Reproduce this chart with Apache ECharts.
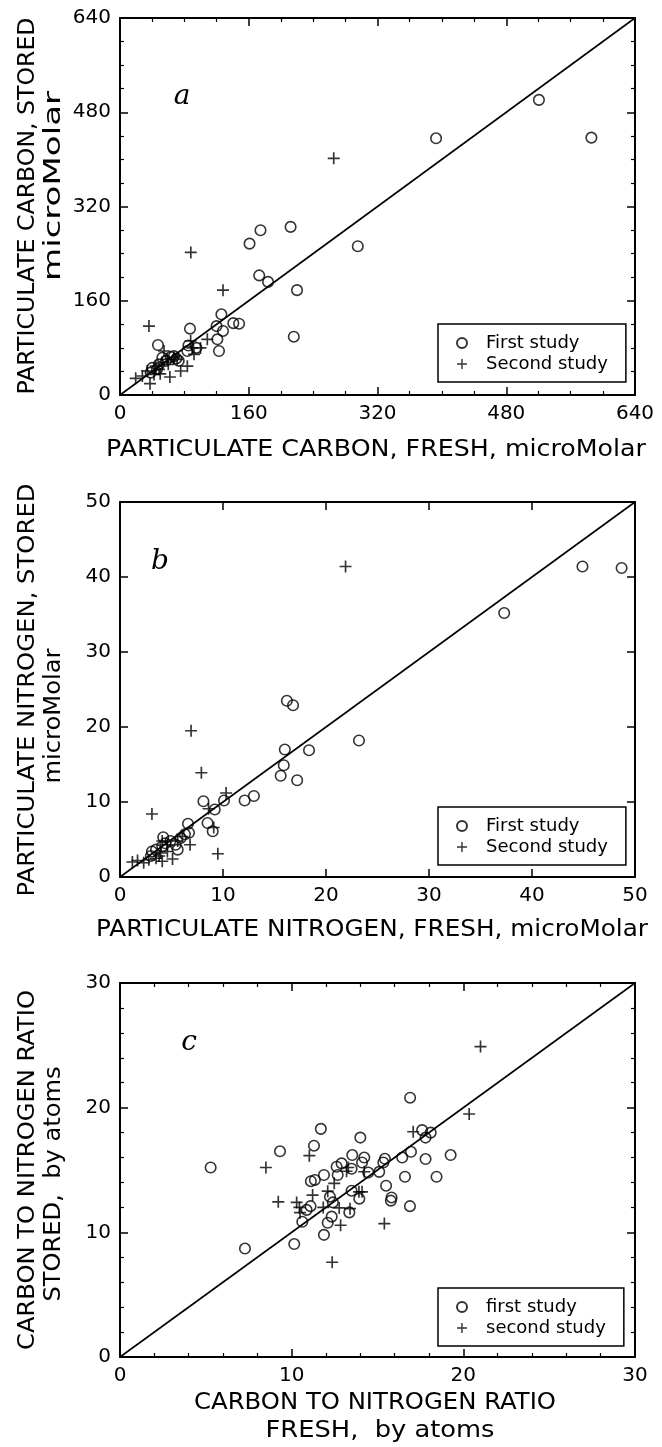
<!DOCTYPE html>
<html>
<head>
<meta charset="utf-8">
<script src="https://cdn.jsdelivr.net/npm/echarts@6/dist/echarts.min.js"></script>
<style>
  html, body { margin: 0; padding: 0; background: #fff; }
  #chart { width: 662px; height: 1447px; }
</style>
</head>
<body>
<div id="chart"></div>
<script>
// --- data ---
// a: particulate carbon, microMolar (fresh, stored)
const carbonFirst = [
  [520.6, 501], [392.8, 435.8], [585.8, 436.9], [295.5, 252.5], [212, 285.4], [174.6, 279.7],
  [161, 257], [173, 203], [184, 192], [220, 178], [216, 99], [126, 137], [140.8, 122], [148, 121],
  [120, 117], [128, 108.7], [121, 94.5], [123, 74.7], [87, 112.6], [47.2, 84.9], [85, 84],
  [83.7, 74.7], [95, 80], [63, 64.5], [67, 66], [73, 58], [57, 58], [48.5, 52], [40, 46],
  [38, 38], [46, 43.6], [52.6, 63.4], [70, 62]
];
const carbonSecond = [
  [265.6, 401.7], [88, 242], [128, 178], [36, 117], [108.5, 94.5], [100, 80], [92, 69],
  [83.7, 49], [75.4, 40.7], [62, 30.6], [37.3, 19.2], [19.5, 28.3], [27.8, 32.3], [42.3, 35],
  [48.5, 43.6], [52.6, 55], [54.7, 74.7], [58.8, 60.6], [67, 63.4], [71, 60.6], [87.8, 91.7],
  [90, 80], [34, 40.7], [44.3, 49], [60, 52], [50, 36]
];
const carbonLine = [[0, 0], [640, 640]];

// b: particulate nitrogen, microMolar
const nitrogenFirst = [
  [44.9, 41.4], [48.7, 41.2], [37.3, 35.2], [16.2, 23.5], [16.8, 22.9], [23.2, 18.2], [16.0, 17.0],
  [18.35, 16.9], [15.9, 14.9], [15.6, 13.5], [17.2, 12.9], [12.1, 10.2], [13.0, 10.8], [10.1, 10.2],
  [8.1, 10.1], [9.2, 9.0], [6.6, 7.1], [8.5, 7.2], [9.0, 6.1], [6.7, 5.9], [6.3, 5.7], [4.2, 5.3],
  [5.6, 3.65], [5.4, 4.3], [4.4, 4.5], [4.1, 4.1], [3.5, 3.65], [3.1, 3.4], [3.0, 2.8], [4.9, 4.8],
  [5.9, 5.2]
];
const nitrogenSecond = [
  [21.9, 41.4], [6.9, 19.5], [7.9, 13.9], [10.3, 11.2], [3.1, 8.4], [8.6, 9.1], [9.1, 6.6],
  [9.5, 3.1], [6.8, 4.3], [5.1, 2.4], [4.1, 2.1], [1.2, 2.0], [1.7, 2.2], [2.3, 1.9], [2.8, 2.3],
  [3.8, 2.8], [4.6, 3.4], [6.05, 5.4], [5.6, 4.8], [3.95, 3.2], [3.5, 2.5], [4.6, 4.3], [4.1, 4.8]
];
const nitrogenLine = [[0, 0], [50, 50]];

// c: carbon to nitrogen ratio, by atoms
const ratioFirst = [
  [5.28, 15.2], [7.28, 8.7], [9.32, 16.5], [11.3, 16.95], [11.7, 18.3], [11.12, 14.1], [11.35, 14.2],
  [11.88, 14.6], [11.1, 12.1], [10.87, 11.8], [10.62, 10.85], [10.15, 9.06], [11.88, 9.8],
  [12.1, 10.77], [12.33, 11.26], [12.23, 12.86], [12.62, 15.26], [12.91, 15.53], [12.68, 14.6],
  [13.49, 15.1], [13.53, 16.2], [14.23, 16.0], [14.1, 15.6], [14.0, 17.6], [14.46, 14.8],
  [13.49, 13.34], [13.36, 11.6], [13.94, 12.7], [15.1, 14.85], [15.34, 15.6], [15.43, 15.9],
  [15.5, 13.74], [15.82, 12.8], [15.78, 12.54], [16.44, 16.0], [16.6, 14.46], [16.89, 12.1],
  [16.95, 16.46], [16.9, 20.8], [17.6, 18.2], [17.8, 17.6], [18.1, 18.0], [17.8, 15.88],
  [18.44, 14.46], [19.26, 16.2], [12.4, 12.4]
];
const ratioSecond = [
  [21.0, 24.9], [20.34, 19.49], [17.08, 18.07], [8.5, 15.2], [9.22, 12.45], [10.29, 12.4],
  [10.45, 12.0], [10.49, 11.58], [11.03, 16.15], [11.22, 12.99], [11.84, 12.0], [12.1, 13.3],
  [12.48, 13.93], [12.77, 11.96], [12.85, 10.57], [12.36, 7.6], [13.4, 11.9], [13.2, 14.9],
  [13.3, 15.2], [13.92, 13.25], [14.1, 13.25], [14.23, 14.86], [15.4, 10.7]
];
const ratioLine = [[0, 0], [30, 30]];

// axis ranges / tick steps
const carbonAxis = [0, 640, 160];
const nitrogenAxis = [0, 50, 10];
const ratioAxis = [0, 30, 10];

const FONT = "DejaVu Sans";
const CROSS = "path://M4.3,0h1.4v4.3h4.3v1.4h-4.3v4.3h-1.4v-4.3h-4.3v-1.4h4.3z";

// titles: [text, fontSize, length along reading direction, centre x, centre y]
const panels = [
  {
    top: 18, height: 377, axis: carbonAxis, minor: 4,
    first: carbonFirst, second: carbonSecond, line: carbonLine,
    names: ["First study", "Second study"], legendTop: 324,
    xTitle: [["PARTICULATE CARBON, FRESH, microMolar", 23, 540, 376, 450]],
    yTitle: [["PARTICULATE CARBON, STORED", 23, 377, 28, 206], ["microMolar", 23, 190, 54, 186]],
    letter: "a", letterPos: [182, 97]
  },
  {
    top: 502, height: 375, axis: nitrogenAxis, minor: 0,
    first: nitrogenFirst, second: nitrogenSecond, line: nitrogenLine,
    names: ["First study", "Second study"], legendTop: 807,
    xTitle: [["PARTICULATE NITROGEN, FRESH, microMolar", 23, 552, 372, 930]],
    yTitle: [["PARTICULATE NITROGEN, STORED", 23, 413, 28, 690], ["microMolar", 23, 135, 54, 716]],
    letter: "b", letterPos: [160, 562]
  },
  {
    top: 983, height: 374, axis: ratioAxis, minor: 5,
    first: ratioFirst, second: ratioSecond, line: ratioLine,
    names: ["first study", "second study"], legendTop: 1288,
    xTitle: [["CARBON TO NITROGEN RATIO", 23, 362, 375, 1403], ["FRESH,  by atoms", 23, 229, 380, 1431]],
    yTitle: [["CARBON TO NITROGEN RATIO", 23, 360, 28, 1170], ["STORED,  by atoms", 23, 235, 54, 1184]],
    letter: "c", letterPos: [189, 1043]
  }
];

const measureCtx = document.createElement("canvas").getContext("2d");
function stretch(text, size, length) {
  measureCtx.font = size + "px " + FONT;
  return length / measureCtx.measureText(text).width;
}

function makeAxis(p, i, pos, labels) {
  return {
    type: "value", gridIndex: i, position: pos,
    min: p.axis[0], max: p.axis[1], interval: p.axis[2],
    axisLine: { show: true, onZero: false, lineStyle: { color: "#000", width: 2 } },
    axisTick: { show: true, inside: true, length: 8, lineStyle: { color: "#000", width: 1.5 } },
    minorTick: { show: p.minor > 0, splitNumber: p.minor || 5, length: 4, lineStyle: { color: "#000", width: 1.2 } },
    splitLine: { show: false },
    axisLabel: { show: labels, color: "#000", fontFamily: FONT, fontSize: 20, margin: 9 }
  };
}

const grid = [], xAxis = [], yAxis = [], series = [], legend = [], graphic = [];

panels.forEach((p, i) => {
  grid.push({ left: 120, top: p.top, width: 515, height: p.height });
  xAxis.push(makeAxis(p, i, "bottom", true), makeAxis(p, i, "top", false));
  yAxis.push(makeAxis(p, i, "left", true), makeAxis(p, i, "right", false));

  series.push({
    type: "line", xAxisIndex: 2 * i, yAxisIndex: 2 * i, data: p.line,
    symbol: "none", silent: true, lineStyle: { color: "#000", width: 1.6 }, z: 2
  });
  series.push({
    type: "scatter", name: p.names[0], xAxisIndex: 2 * i, yAxisIndex: 2 * i, data: p.first,
    symbol: "circle", symbolSize: 10.5, z: 3,
    itemStyle: { color: "rgba(0,0,0,0)", borderColor: "#000", borderWidth: 1.6 }
  });
  series.push({
    type: "scatter", name: p.names[1], xAxisIndex: 2 * i, yAxisIndex: 2 * i, data: p.second,
    symbol: CROSS, symbolSize: 12, z: 3,
    itemStyle: { color: "#000", borderWidth: 0 }
  });

  legend.push({
    data: p.names, orient: "vertical", left: 438, top: p.legendTop,
    padding: [10, 18, 9, 18], itemGap: 3, itemWidth: 10, itemHeight: 10,
    borderColor: "#000", borderWidth: 1.5, borderRadius: 0, selectedMode: false,
    textStyle: { fontFamily: FONT, fontSize: 18, color: "#000", padding: [0, 0, 0, 14] }
  });

  p.xTitle.forEach(([t, size, len, cx, cy]) => {
    graphic.push({
      type: "text", x: cx, y: cy, scaleX: stretch(t, size, len),
      style: { text: t, fontFamily: FONT, fontSize: size, fill: "#000", align: "center", verticalAlign: "middle" }
    });
  });
  p.yTitle.forEach(([t, size, len, cx, cy]) => {
    graphic.push({
      type: "text", x: cx, y: cy, rotation: Math.PI / 2, scaleX: stretch(t, size, len),
      style: { text: t, fontFamily: FONT, fontSize: size, fill: "#000", align: "center", verticalAlign: "middle" }
    });
  });
  graphic.push({
    type: "text", x: p.letterPos[0], y: p.letterPos[1],
    style: { text: p.letter, fontFamily: "DejaVu Serif", fontStyle: "italic", fontSize: 28, fill: "#000", align: "center", verticalAlign: "middle" }
  });
});

const chart = echarts.init(document.getElementById("chart"), null, { renderer: "canvas" });
chart.setOption({
  backgroundColor: "#fff",
  animation: false,
  grid, xAxis, yAxis, series, legend, graphic
});
</script>
</body>
</html>
